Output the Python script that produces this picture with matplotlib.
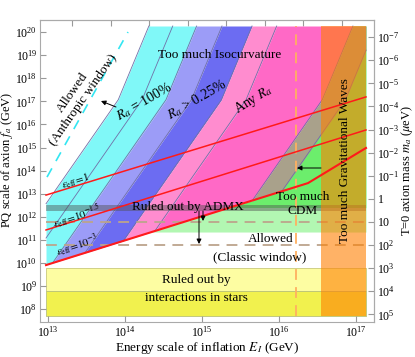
import numpy as np
import matplotlib
matplotlib.use("Agg")
import matplotlib.pyplot as plt
from matplotlib.ticker import FixedLocator, NullLocator, FuncFormatter, NullFormatter

plt.rcParams['font.family'] = ['Liberation Serif', 'DejaVu Serif']
plt.rcParams['mathtext.fontset'] = 'stix'

W, H = 415, 357

# ------------------ data (log10 values) ------------------
E_span = [12.974, 17.13]      # log10 E_I extent of the shaded plane
f_span = [7.71, 20.26]        # log10 f_a extent of the shaded plane

# isocurvature-type boundaries: log10 E_I at the vertices iso_f (log10 f_a)
iso_f = [9.0, 17.05, 20.26]
C1 = [12.23, 13.91, 14.31]
C2 = [12.54, 14.22, 14.62]
C3 = [12.85, 14.53, 14.93]
C4 = [13.18, 14.86, 15.26]
C5 = [13.57, 15.25, 15.65]
C6 = [13.89, 15.57, 15.97]
LA = [14.88, 16.56, 16.96]
LB = [15.18, 16.86, 17.26]

# eps_eff lines (log10 E_I, log10 f_a)
red_top_E, red_top_f = [12.974, 17.13], [12.94, 17.19]
red_mid_E, red_mid_f = [12.974, 17.13], [11.43, 15.76]
red_bot_E, red_bot_f = [12.974, 16.377, 17.13], [9.91, 13.46, 14.98]

# horizontal bands (log10 f_a)
admx = [12.25, 12.51]
cdm_light_lo = 11.34
cdm_hi = 12.38
classic_dash = [11.77, 10.78]
stars_light = [8.79, 9.78]
stars_dark = [7.71, 8.79]

# vertical features (log10 E_I)
gw_lo = 16.545
planck_E = 16.22

# anthropic dashed line
anth_E, anth_f = [12.987, 14.039], [13.72, 20.0]

m_const = 6.0e12   # m_a [mueV] = m_const / f_a [GeV]
H_const = 4.22e18  # H_I = E_I^2 / H_const

# tick decades
x_tick_exp = [13, 14, 15, 16, 17]
y_tick_exp = list(range(8, 21))
m_tick_exp = list(range(-7, 6))
h_tick_exp = list(range(8, 16))

# ------------------ figure ------------------
fig = plt.figure(figsize=(W / 100, H / 100), dpi=100)
ax = fig.add_axes([40 / W, 1 - 322 / H, 334 / W, 302 / H])
ax.set_xscale('log')
ax.set_yscale('log')
ax.set_xlim(10 ** 12.896, 10 ** 17.234)
ax.set_ylim(10 ** 7.446, 10 ** 20.52)

fg = np.linspace(f_span[0], f_span[1], 4000)
Y = 10 ** fg
E0, E1 = E_span


def curve(c):
    return np.interp(fg, iso_f, c)


red_inv = np.interp(fg, red_bot_f, red_bot_E, left=12.0, right=18.0)


def band(left, right, color, mask=None, z=1):
    l = np.clip(left, E0, E1)
    r = np.clip(right, E0, E1)
    w = r > l
    if mask is not None:
        w &= mask
    ax.fill_betweenx(Y, 10 ** l, 10 ** r, where=w, color=color, lw=0, zorder=z)


xs = 10 ** np.array(E_span)

# stars
ax.fill_between(xs, 10 ** stars_light[0], 10 ** stars_light[1], facecolor='#fdfda2',
                edgecolor='#c9c97a', lw=0.6, zorder=1)
ax.fill_between(xs, 10 ** stars_dark[0], 10 ** stars_dark[1], facecolor='#f1f14e',
                edgecolor='#b9c27a', lw=0.6, zorder=1)

# too much CDM
band(np.minimum(curve(LA), red_inv), np.full_like(fg, E1), '#6cee6c', mask=fg >= cdm_hi)
band(red_inv, np.full_like(fg, E1), '#b2f7b2', mask=(fg >= cdm_light_lo) & (fg <= cdm_hi))

# isocurvature
band(curve(C1), np.minimum(curve(C3), red_inv), '#80f8f8', z=2)
band(curve(C3), np.minimum(curve(C4), red_inv), '#9c9cf7', z=2)
band(curve(C4), np.minimum(curve(C5), red_inv), '#6c6cf2', z=2)
band(curve(C5), np.minimum(curve(C6), red_inv), '#ff8ccf', z=2)
band(curve(C6), np.minimum(curve(LA), red_inv), '#ff69c6', z=2)
band(curve(LA), np.minimum(curve(LB), red_inv), '#a9a18b', z=2)

for c in [C1, C2, C3, C4, C5, C6, LA, LB]:
    e = curve(c)
    m = (e >= E0) & (e <= np.minimum(red_inv, E1))
    ax.plot(np.where(m, 10 ** e, np.nan), Y, color='#7070a8', lw=0.6, zorder=3)

# ADMX
ax.fill_between(xs, 10 ** admx[0], 10 ** admx[1], color='#505050', alpha=0.45, lw=0, zorder=4)

# classic window dashed lines
for v in classic_dash:
    ax.plot(xs, [10 ** v, 10 ** v], ls=(0, (6, 4)), color='#bca48c', lw=1.3, zorder=5)

# gravitational waves
ax.fill_between([10 ** gw_lo, 10 ** E1], 10 ** f_span[0], 10 ** f_span[1],
                color='#ff8000', alpha=0.6, lw=0, zorder=6)

ax.plot([10 ** planck_E] * 2, [10 ** f_span[0], 10 ** f_span[1]], ls=(0, (6, 4)),
        color='#ffb060', lw=1.3, zorder=7)

# eps_eff lines
ax.plot(10 ** np.array(red_top_E), 10 ** np.array(red_top_f), color='#ff1a1a', lw=1.1, zorder=8)
ax.plot(10 ** np.array(red_mid_E), 10 ** np.array(red_mid_f), color='#ff1a1a', lw=1.1, zorder=8)
ax.plot(10 ** np.array(red_bot_E), 10 ** np.array(red_bot_f), color='#ff1a1a', lw=1.5, zorder=8)

ax.plot(10 ** np.array(anth_E), 10 ** np.array(anth_f), ls=(0, (6, 5)), color='#33e6f2',
        lw=1.2, zorder=8)

# ------------------ axes cosmetics ------------------
ax.xaxis.set_major_locator(FixedLocator(10.0 ** np.array(x_tick_exp)))
ax.yaxis.set_major_locator(FixedLocator(10.0 ** np.array(y_tick_exp)))
ax.xaxis.set_minor_locator(NullLocator())
ax.yaxis.set_minor_locator(NullLocator())
ax.tick_params(direction='in', length=4, color='#999999', labelsize=8.5,
               top=False, right=False)
ax.tick_params(axis='x', pad=2)
ax.tick_params(axis='y', pad=2)
for s in ax.spines.values():
    s.set_color('#aaaaaa')

secx = ax.secondary_xaxis('top', functions=(lambda e: np.abs(e) ** 2 / H_const,
                                            lambda h: np.sqrt(np.abs(h) * H_const)))
secx.xaxis.set_major_locator(FixedLocator(10.0 ** np.array(h_tick_exp)))
secx.xaxis.set_minor_locator(NullLocator())
secx.xaxis.set_major_formatter(NullFormatter())
secx.tick_params(direction='in', length=4, color='#999999')
secx.spines['top'].set_color('#aaaaaa')


def inv_m(v):
    v = np.asarray(v, dtype=float)
    with np.errstate(divide='ignore'):
        return m_const / np.where(v == 0, 1e-300, v)


secy = ax.secondary_yaxis('right', functions=(inv_m, inv_m))
secy.yaxis.set_major_locator(FixedLocator(10.0 ** np.array(m_tick_exp)))
secy.yaxis.set_minor_locator(NullLocator())


def mfmt(v, pos):
    n = int(round(np.log10(v)))
    if n == 0:
        return r'$\mathdefault{1}$'
    if n == 1:
        return r'$\mathdefault{10}$'
    return r'$\mathdefault{10^{%d}}$' % n


secy.yaxis.set_major_formatter(FuncFormatter(mfmt))
secy.tick_params(direction='in', length=4, color='#999999', labelsize=8.5, pad=2)
secy.spines['right'].set_color('#aaaaaa')

ax.set_xlabel('Energy scale of inflation $E_I$ (GeV)', fontsize=9.5)
ax.xaxis.label.set_va('center')
ax.xaxis.set_label_coords((207 - 40) / 334, -(348 - 322) / 302)
ax.set_ylabel('PQ scale of axion $f_a$ (GeV)', fontsize=9)
ax.yaxis.label.set_va('center')
ax.yaxis.set_label_coords((7 - 40) / 334, (322 - 160) / 302)


# ------------------ annotations ------------------
def T(x, y, s, rot=0, size=9.5, **kw):
    fig.text(x / W, 1 - y / H, s, rotation=rot, rotation_mode='anchor',
             ha='center', va='center', fontsize=size, zorder=20, **kw)


def A(x0, y0, x1, y1):
    ax.annotate('', xy=(x1, H - y1), xycoords='figure pixels',
                xytext=(x0, H - y0), textcoords='figure pixels',
                arrowprops=dict(arrowstyle='-|>', color='k', lw=0.7,
                                mutation_scale=7, shrinkA=0, shrinkB=0), zorder=20)


T(407, 170, 'T=0 axion mass $m_a$ ($\\mu$eV)', rot=90, size=9)
T(220, 55, 'Too much Isocurvature')
T(78, 96, 'Allowed\n(Anthropic window)', rot=55, linespacing=1.1)
T(144, 101, '$R_a$ = 100%', rot=30, size=10)
T(197, 100, '$R_a$ > 0.25%', rot=30, size=10)
T(254, 100, 'Any $R_a$', rot=32, size=10)
T(188, 207, 'Ruled out by ADMX')
T(303, 204, 'Too much\nCDM', linespacing=1.15)
T(271, 239, 'Allowed')
T(260, 257, '(Classic window)')
T(196, 280, 'Ruled out by')
T(196, 298, 'interactions in stars')
T(345, 161, 'Too much Gravitational Waves', rot=90)
T(76, 181, r'$\epsilon_{\rm eff}\!=\!1$', rot=18, size=8)
T(77, 216, r'$\epsilon_{\rm eff}\!=\!10^{-1.5}$', rot=18, size=8)
T(77, 245, r'$\epsilon_{\rm eff}\!=\!10^{-3}$', rot=18, size=8)

A(116, 107, 101, 101)
A(321, 168, 297, 168)
A(203, 211, 203, 221)
A(199, 211, 199, 244)

fig.savefig('out.png', dpi=100)
